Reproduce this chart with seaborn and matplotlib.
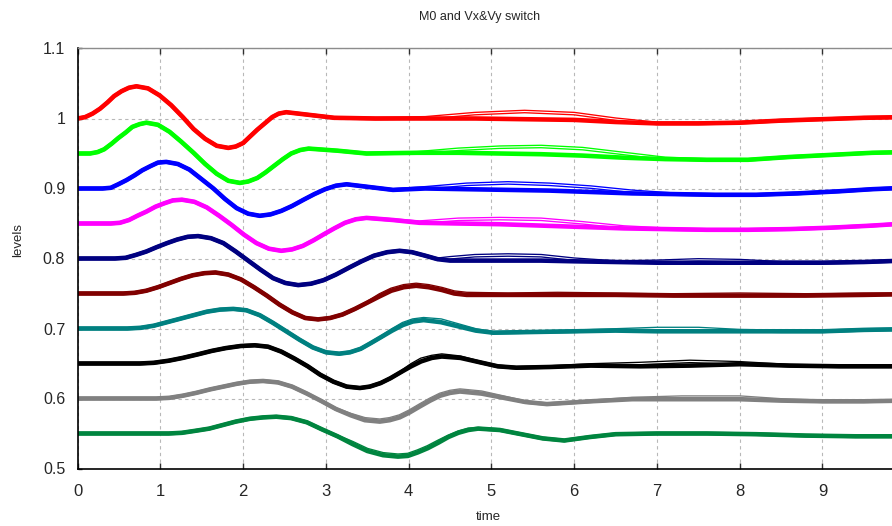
import matplotlib
matplotlib.use("Agg")
import matplotlib.pyplot as plt
import seaborn as sns

# ---------------- data ----------------
t_red = [0, 0.09, 0.18, 0.27, 0.36, 0.44, 0.53, 0.62, 0.71, 0.85, 0.99, 1.13, 1.27, 1.40, 1.54,
         1.68, 1.82, 1.91, 2.0, 2.08, 2.17, 2.26, 2.35, 2.43, 2.52, 2.81, 3.1, 3.6, 4.2, 4.8,
         5.4, 6.0, 6.5, 7.0, 7.5, 8.0, 8.5, 9.0, 9.5, 10.0]
y_red = [1.000, 1.002, 1.007, 1.014, 1.023, 1.032, 1.039, 1.044, 1.046, 1.043, 1.033, 1.019,
         1.002, 0.985, 0.971, 0.961, 0.958, 0.960, 0.965, 0.974, 0.984, 0.993, 1.002, 1.007,
         1.009, 1.005, 1.001, 1.000, 1.000, 1.000, 0.999, 0.998, 0.995, 0.993, 0.993, 0.994,
         0.997, 0.999, 1.001, 1.002]
y_red_alt = y_red[:28] + [1.001, 1.007, 1.010, 1.007, 0.999, 0.993, 0.993, 0.994, 0.997,
                          0.999, 1.001, 1.002]

t_lime = [0, 0.15, 0.24, 0.32, 0.41, 0.49, 0.58, 0.66, 0.75, 0.83, 0.97, 1.11, 1.25, 1.40,
          1.54, 1.68, 1.82, 1.96, 2.06, 2.17, 2.27, 2.38, 2.48, 2.58, 2.69, 2.79, 3.14, 3.49,
          4.1, 4.6, 5.1, 5.6, 6.1, 6.6, 7.1, 7.6, 8.1, 8.6, 9.1, 9.6, 10.0]
y_lime = [0.950, 0.950, 0.952, 0.956, 0.964, 0.972, 0.980, 0.988, 0.992, 0.994, 0.991, 0.981,
          0.967, 0.951, 0.935, 0.921, 0.911, 0.908, 0.910, 0.915, 0.923, 0.933, 0.942, 0.950,
          0.955, 0.957, 0.954, 0.950, 0.951, 0.951, 0.950, 0.949, 0.947, 0.944, 0.942, 0.941,
          0.941, 0.945, 0.948, 0.951, 0.952]
y_lime_alt = y_lime[:28] + [0.951, 0.956, 0.959, 0.960, 0.957, 0.950, 0.943, 0.941, 0.941,
                            0.945, 0.948, 0.951, 0.952]

t_blue = [0, 0.30, 0.40, 0.49, 0.59, 0.69, 0.78, 0.88, 0.97, 1.07, 1.21, 1.35, 1.49, 1.64,
          1.78, 1.92, 2.06, 2.20, 2.33, 2.46, 2.59, 2.73, 2.86, 2.99, 3.12, 3.25, 3.53, 3.81,
          4.2, 4.7, 5.2, 5.7, 6.2, 6.7, 7.2, 7.7, 8.2, 8.7, 9.2, 9.6, 10.0]
y_blue = [0.900, 0.900, 0.901, 0.906, 0.912, 0.919, 0.926, 0.932, 0.937, 0.938, 0.935, 0.927,
          0.914, 0.900, 0.885, 0.872, 0.864, 0.861, 0.863, 0.868, 0.875, 0.884, 0.892, 0.899,
          0.904, 0.906, 0.902, 0.898, 0.900, 0.899, 0.898, 0.897, 0.895, 0.893, 0.892, 0.891,
          0.891, 0.893, 0.896, 0.899, 0.901]
y_blue_alt = y_blue[:28] + [0.901, 0.906, 0.908, 0.906, 0.902, 0.896, 0.892, 0.891, 0.891,
                            0.893, 0.896, 0.899, 0.901]

t_mag = [0, 0.40, 0.51, 0.62, 0.72, 0.83, 0.94, 1.05, 1.15, 1.26, 1.41, 1.56, 1.71, 1.86,
         2.01, 2.16, 2.31, 2.46, 2.59, 2.72, 2.85, 2.98, 3.10, 3.23, 3.36, 3.49, 3.81, 4.13,
         4.6, 5.1, 5.6, 6.1, 6.6, 7.1, 7.6, 8.1, 8.6, 9.1, 9.6, 10.0]
y_mag = [0.850, 0.850, 0.851, 0.855, 0.861, 0.867, 0.874, 0.879, 0.883, 0.884, 0.881, 0.873,
         0.861, 0.848, 0.834, 0.822, 0.814, 0.811, 0.813, 0.818, 0.826, 0.835, 0.843, 0.851,
         0.856, 0.858, 0.855, 0.851, 0.850, 0.849, 0.847, 0.845, 0.843, 0.842, 0.841, 0.841,
         0.842, 0.844, 0.847, 0.850]
y_mag_alt = y_mag[:27] + [0.852, 0.856, 0.857, 0.856, 0.851, 0.845, 0.842, 0.841, 0.841,
                          0.842, 0.844, 0.847, 0.850]

t_navy = [0, 0.45, 0.58, 0.70, 0.83, 0.95, 1.08, 1.20, 1.33, 1.455, 1.61, 1.76, 1.91, 2.06,
          2.21, 2.36, 2.51, 2.665, 2.82, 2.97, 3.12, 3.28, 3.43, 3.58, 3.74, 3.89, 4.04, 4.2,
          4.35, 4.5, 4.8, 5.2, 5.6, 6.0, 6.5, 7.0, 7.5, 8.0, 8.5, 9.0, 9.5, 10.0]
y_navy = [0.800, 0.800, 0.801, 0.805, 0.810, 0.816, 0.822, 0.827, 0.831, 0.832, 0.829, 0.822,
          0.810, 0.797, 0.784, 0.772, 0.765, 0.762, 0.764, 0.769, 0.777, 0.787, 0.796, 0.804,
          0.809, 0.811, 0.809, 0.804, 0.799, 0.797, 0.797, 0.797, 0.797, 0.796, 0.795, 0.794,
          0.794, 0.794, 0.794, 0.794, 0.795, 0.797]
y_navy_alt = y_navy[:29] + [0.801, 0.804, 0.805, 0.804, 0.799, 0.795, 0.796, 0.798, 0.797,
                            0.794, 0.794, 0.795, 0.797]

t_maroon = [0, 0.55, 0.69, 0.83, 0.97, 1.11, 1.25, 1.39, 1.53, 1.665, 1.82, 1.975, 2.13,
            2.285, 2.44, 2.595, 2.75, 2.905, 3.05, 3.20, 3.35, 3.50, 3.65, 3.79, 3.94, 4.09,
            4.24, 4.40, 4.55, 4.70, 5.2, 5.8, 6.5, 7.2, 8.0, 8.8, 9.5, 10.0]
y_maroon = [0.750, 0.750, 0.751, 0.754, 0.759, 0.765, 0.771, 0.776, 0.779, 0.780, 0.777, 0.770,
            0.759, 0.747, 0.734, 0.723, 0.715, 0.713, 0.715, 0.720, 0.728, 0.737, 0.746, 0.754,
            0.759, 0.761, 0.759, 0.755, 0.750, 0.748, 0.748, 0.748, 0.748, 0.747, 0.747, 0.747,
            0.748, 0.749]
y_maroon_alt = y_maroon[:22] + [0.748, 0.756, 0.761, 0.763, 0.761, 0.757, 0.752, 0.750, 0.749,
                                0.750, 0.749, 0.748, 0.749, 0.748, 0.749, 0.749]

t_teal = [0, 0.60, 0.76, 0.92, 1.08, 1.24, 1.40, 1.56, 1.72, 1.88, 2.04, 2.20, 2.36, 2.52,
          2.68, 2.84, 3.00, 3.16, 3.29, 3.42, 3.54, 3.67, 3.80, 3.93, 4.05, 4.18, 4.39, 4.60,
          4.81, 5.02, 5.5, 6.0, 6.5, 7.0, 7.5, 8.0, 8.5, 9.0, 9.5, 10.0]
y_teal = [0.700, 0.700, 0.701, 0.704, 0.709, 0.714, 0.719, 0.724, 0.727, 0.728, 0.726, 0.719,
          0.708, 0.696, 0.684, 0.673, 0.666, 0.664, 0.666, 0.671, 0.679, 0.688, 0.697, 0.705,
          0.710, 0.712, 0.709, 0.703, 0.697, 0.694, 0.695, 0.696, 0.697, 0.696, 0.696, 0.696,
          0.696, 0.696, 0.698, 0.699]
y_teal_alt = y_teal[:22] + [0.698, 0.707, 0.712, 0.714, 0.712, 0.705, 0.698, 0.694, 0.695,
                            0.696, 0.698, 0.700, 0.700, 0.697, 0.696, 0.696, 0.698, 0.699]

t_black = [0, 0.75, 0.92, 1.10, 1.27, 1.45, 1.62, 1.79, 1.97, 2.14, 2.30, 2.46, 2.62, 2.78,
           2.93, 3.09, 3.25, 3.41, 3.53, 3.66, 3.78, 3.91, 4.03, 4.15, 4.28, 4.40, 4.625, 4.85,
           5.075, 5.30, 5.7, 6.2, 6.8, 7.4, 8.0, 8.6, 9.2, 10.0]
y_black = [0.650, 0.650, 0.651, 0.654, 0.658, 0.663, 0.668, 0.672, 0.675, 0.676, 0.674, 0.667,
           0.657, 0.646, 0.634, 0.624, 0.617, 0.615, 0.617, 0.622, 0.629, 0.638, 0.646, 0.653,
           0.658, 0.660, 0.658, 0.652, 0.646, 0.644, 0.645, 0.647, 0.646, 0.647, 0.649, 0.647,
           0.646, 0.646]
y_black_alt = y_black[:22] + [0.648, 0.656, 0.660, 0.662, 0.659, 0.652, 0.646, 0.644, 0.645,
                              0.648, 0.650, 0.653, 0.651, 0.647, 0.646, 0.646]

t_gray = [0, 0.95, 1.11, 1.27, 1.43, 1.60, 1.76, 1.92, 2.08, 2.24, 2.42, 2.59, 2.77, 2.95,
          3.12, 3.30, 3.47, 3.65, 3.77, 3.89, 4.01, 4.14, 4.26, 4.38, 4.50, 4.62, 4.88, 5.145,
          5.41, 5.67, 6.2, 6.7, 7.3, 8.0, 8.5, 9.0, 9.5, 10.0]
y_gray = [0.600, 0.600, 0.601, 0.604, 0.608, 0.613, 0.617, 0.621, 0.624, 0.625, 0.623, 0.617,
          0.607, 0.596, 0.585, 0.576, 0.569, 0.567, 0.569, 0.573, 0.580, 0.589, 0.597, 0.604,
          0.608, 0.610, 0.607, 0.601, 0.595, 0.592, 0.596, 0.599, 0.599, 0.599, 0.597, 0.596,
          0.596, 0.597]
y_gray_alt = y_gray[:15] + [0.577, 0.571, 0.569, 0.571, 0.575, 0.582, 0.591, 0.599, 0.606,
                            0.610, 0.612, 0.609, 0.602, 0.595, 0.592, 0.596, 0.600, 0.602,
                            0.602, 0.598, 0.596, 0.596, 0.597]

t_green = [0, 1.10, 1.26, 1.43, 1.59, 1.75, 1.91, 2.08, 2.24, 2.40, 2.58, 2.77, 2.95, 3.14,
           3.32, 3.50, 3.69, 3.87, 3.99, 4.11, 4.23, 4.36, 4.48, 4.60, 4.72, 4.84, 5.10, 5.36,
           5.62, 5.88, 6.19, 6.5, 7.0, 7.6, 8.2, 8.8, 9.4, 10.0]
y_green = [0.550, 0.550, 0.551, 0.554, 0.557, 0.562, 0.567, 0.571, 0.573, 0.574, 0.572, 0.566,
           0.556, 0.546, 0.535, 0.525, 0.519, 0.517, 0.518, 0.523, 0.529, 0.537, 0.545, 0.551,
           0.555, 0.557, 0.555, 0.549, 0.543, 0.540, 0.545, 0.549, 0.550, 0.550, 0.549, 0.547,
           0.546, 0.546]
y_green_alt = (y_green[:14] + [0.537, 0.527, 0.521, 0.519, 0.520, 0.525, 0.531, 0.539, 0.546,
                               0.552, 0.556] + y_green[25:])

colors = ["#ff0000", "#00ff00", "#0000ff", "#ff00ff", "#000080",
          "#800000", "#008080", "#000000", "#808080", "#00853f"]

x_ticks = [0, 1, 2, 3, 4, 5, 6, 7, 8, 9]
y_ticks = [0.5, 0.6, 0.7, 0.8, 0.9, 1.0, 1.1]
y_tick_labels = ["0.5", "0.6", "0.7", "0.8", "0.9", "1", "1.1"]

title = "M0 and Vx&Vy switch"
x_label = "time"
y_label = "levels"

# ---------------- plotting ----------------
sns.set_style("white")
plt.rcParams["font.family"] = ["Liberation Sans", "DejaVu Sans"]

W, H = 892, 526
fig = plt.figure(figsize=(W / 100, H / 100), dpi=100)
ax_left, ax_bottom, ax_top = 77.7, 468.5, 48.5
ax = fig.add_axes([ax_left / W, 1 - ax_bottom / H, 1 - ax_left / W, (ax_bottom - ax_top) / H])

series = [
    (t_red, y_red, y_red_alt), (t_lime, y_lime, y_lime_alt), (t_blue, y_blue, y_blue_alt),
    (t_mag, y_mag, y_mag_alt), (t_navy, y_navy, y_navy_alt), (t_maroon, y_maroon, y_maroon_alt),
    (t_teal, y_teal, y_teal_alt), (t_black, y_black, y_black_alt), (t_gray, y_gray, y_gray_alt),
    (t_green, y_green, y_green_alt),
]

for (t, y, ya), c in zip(series, colors):
    # hollow companion trace
    sns.lineplot(x=t, y=ya, color=c, linewidth=2.7, ax=ax, estimator=None, sort=False,
                 legend=False)
    sns.lineplot(x=t, y=ya, color="white", linewidth=0.8, ax=ax, estimator=None, sort=False,
                 legend=False)
    # main thick trace
    sns.lineplot(x=t, y=y, color=c, linewidth=3.3, ax=ax, estimator=None, sort=False,
                 legend=False)

for ln in ax.get_lines():
    ln.set_solid_joinstyle("round")
    ln.set_solid_capstyle("butt")

ax.set_xlim(0, 9.84)
ax.set_ylim(0.5, 1.1)
ax.set_xticks(x_ticks)
ax.set_xticklabels([str(v) for v in x_ticks])
ax.set_yticks(y_ticks)
ax.set_yticklabels(y_tick_labels)
ax.set_xlabel("")
ax.set_ylabel("")

ax.grid(True, linestyle=(0, (3, 3)), color="#b8b8b8", linewidth=0.8)
ax.set_axisbelow(True)

for side in ["left", "bottom"]:
    ax.spines[side].set_color("black")
    ax.spines[side].set_linewidth(1.2)
ax.spines["top"].set_color("#8c8c8c")
ax.spines["top"].set_linewidth(1.0)
ax.spines["right"].set_visible(False)

ax.tick_params(axis="x", direction="in", top=True, bottom=True, length=4, width=1,
               color="#303030", labelsize=11, pad=11)
ax.tick_params(axis="y", direction="in", left=True, length=3, width=1, color="#303030",
               labelsize=11.5, pad=9)
for lbl in ax.get_xticklabels():
    lbl.set_family(["Liberation Sans Narrow", "Liberation Sans", "DejaVu Sans"])
    lbl.set_fontsize(12)

fig.text(480 / W, 1 - 17 / H, title, ha="center", va="center", fontsize=9)
fig.text(488 / W, 1 - 517 / H, x_label, ha="center", va="center", fontsize=9.5)
fig.text(18 / W, 1 - 240 / H, y_label, ha="center", va="center", rotation=90, fontsize=9.5)

fig.savefig("out.png", dpi=100)
